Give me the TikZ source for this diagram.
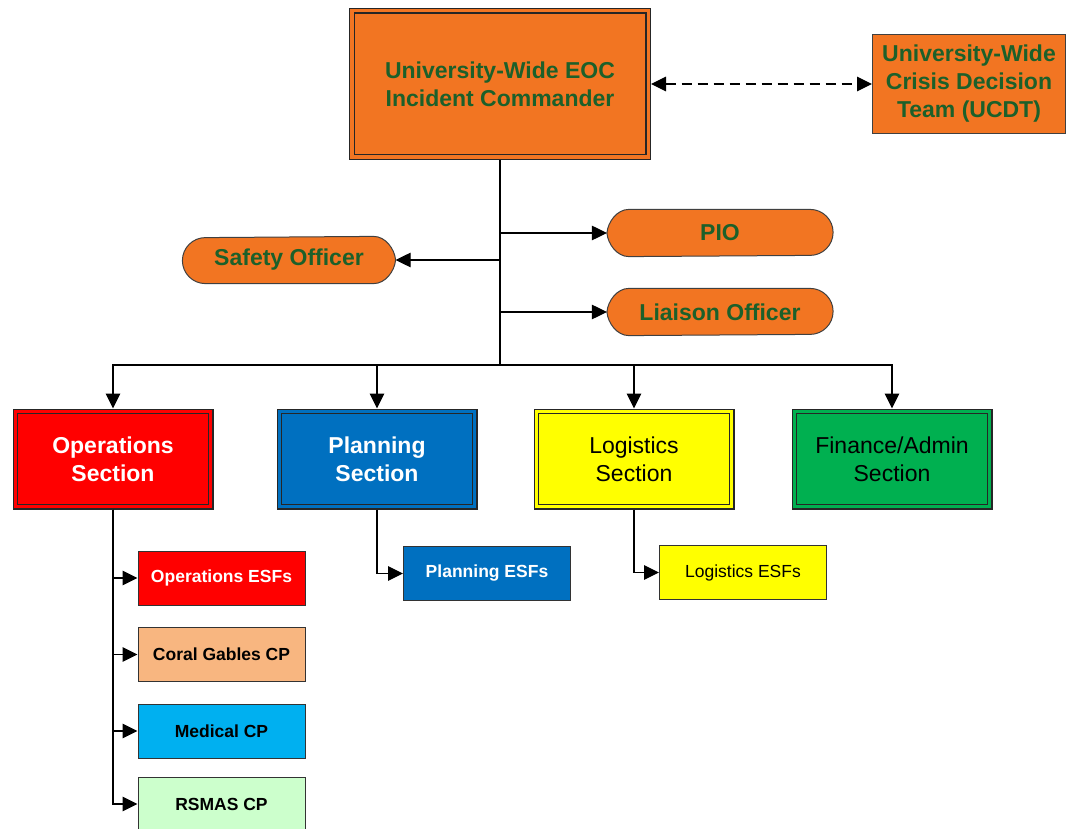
\documentclass[tikz,border=0pt]{standalone}
\usepackage{fontspec}
\setmainfont{Liberation Sans}
\usetikzlibrary{positioning, arrows.meta, backgrounds}

\definecolor{eocorange}{RGB}{242,117,34}
\definecolor{eocgreen}{RGB}{28,96,42}
\definecolor{opsred}{RGB}{255,0,0}
\definecolor{planblue}{RGB}{0,112,192}
\definecolor{logiyellow}{RGB}{255,255,0}
\definecolor{fingreen}{RGB}{0,176,80}
\definecolor{coralorange}{RGB}{248,182,128}
\definecolor{medblue}{RGB}{0,176,240}
\definecolor{rsmasgreen}{RGB}{204,255,204}

\tikzset{
  section/.style={rectangle, draw=black!85, line width=1.2pt, fill=#1, double=#1,
    double distance=3.3pt, outer sep=2.85pt, minimum width=195.3pt,
    minimum height=95.3pt, align=center, font=\fontsize{23}{28}\selectfont},
  boldtext/.style={font=\fontsize{23}{28}\selectfont\bfseries},
  unit/.style={rectangle, draw=black!80, line width=1pt, minimum width=167pt,
    minimum height=54pt, font=\fontsize{17.5}{21}\selectfont\bfseries},
  officer/.style={minimum height=46pt, inner sep=0pt, text=eocgreen, boldtext},
  officerline/.style={draw=black!75, line width=1pt, fill=eocorange},
}

\begin{document}
\begin{tikzpicture}[x=1pt, y=1pt, on grid, line width=1.2pt,
    >={Triangle[length=15pt, width=14.5pt]}]
  \useasboundingbox (0,0) rectangle (1069,-829);

  % command level
  \node[section=eocorange, minimum width=296.3pt, minimum height=146.3pt,
    text=eocgreen, boldtext] (cmd) at (500,-84) {University-Wide EOC\\Incident Commander};
  \node[rectangle, draw=black!75, line width=1pt, fill=eocorange, minimum width=193pt,
    minimum height=99pt, align=center, text=eocgreen, boldtext]
    [right=469pt of cmd] (ucdt) {University-Wide\\Crisis Decision\\Team (UCDT)};

  % command staff
  \node[officer, minimum width=225pt] [below right=149pt and 220pt of cmd] (pio) {PIO};
  \node[officer, minimum width=225pt] [below=79pt of pio] (liaison) {Liaison Officer};
  \node[officer, minimum width=212pt] [below left=176pt and 211pt of cmd] (safety) {Safety Officer};

  % sections
  \node[section=planblue, text=white, boldtext] [below left=375pt and 123pt of cmd] (plan) {Planning\\Section};
  \node[section=opsred, text=white, boldtext] [left=264pt of plan] (ops) {Operations\\Section};
  \node[section=logiyellow] [right=257pt of plan] (logi) {Logistics\\Section};
  \node[section=fingreen] [right=258pt of logi] (fin) {Finance/Admin\\Section};

  % units
  \node[unit, fill=opsred, text=white] [below right=119pt and 108.5pt of ops] (opsesf) {Operations ESFs};
  \node[unit, fill=coralorange] [below=76.5pt of opsesf] (coral) {Coral Gables CP};
  \node[unit, fill=medblue] [below=76.5pt of coral] (medical) {Medical CP};
  \node[unit, fill=rsmasgreen] [below=73pt of medical] (rsmas) {RSMAS CP};
  \node[unit, fill=planblue, text=white] [below right=114.5pt and 110pt of plan] (planesf) {Planning ESFs};
  \node[unit, fill=logiyellow, font=\fontsize{17.5}{21}\selectfont]
    [below right=113.5pt and 109pt of logi] (logiesf) {Logistics ESFs};

  % officer outlines
  \begin{scope}[on background layer]
    \foreach \n in {pio, liaison} {
      \draw[officerline] ([xshift=22pt]\n.north west) -- ([xshift=-23pt]\n.north east)
        arc[start angle=90, end angle=-90, radius=23pt] -- ([xshift=22pt]\n.south west)
        .. controls ([xshift=10pt]\n.south west) and ([shift={(1pt,-11pt)}]\n.west) .. (\n.west)
        .. controls ([shift={(1pt,11pt)}]\n.west) and ([xshift=10pt]\n.north west) .. cycle;
    }
    \draw[officerline] (safety.east)
      .. controls ([shift={(-1pt,-11pt)}]safety.east) and ([xshift=-10pt]safety.south east) .. ([xshift=-22pt]safety.south east)
      -- ([xshift=23pt]safety.south west) arc[start angle=270, end angle=90, radius=23pt]
      -- ([xshift=-22pt]safety.north east)
      .. controls ([xshift=-10pt]safety.north east) and ([shift={(-1pt,11pt)}]safety.east) .. cycle;
  \end{scope}

  % connectors
  \coordinate[below=281pt of cmd] (hub);
  \draw[<->, dash pattern=on 10pt off 6pt] (cmd) -- (ucdt);
  \draw (cmd.south) -- (hub);
  \draw[->] (cmd.south |- pio.west) -- (pio.west);
  \draw[->] (cmd.south |- liaison.west) -- (liaison.west);
  \draw[->] (cmd.south |- safety.east) -- (safety.east);
  \foreach \s in {ops, plan, logi, fin}
    \draw[->] (hub) -| (\s.north);
  \foreach \u in {opsesf, coral, medical, rsmas}
    \draw[->] (ops.south) |- (\u.west);
  \draw[->] (plan.south) |- (planesf.west);
  \draw[->] (logi.south) |- (logiesf.west);
\end{tikzpicture}
\end{document}
